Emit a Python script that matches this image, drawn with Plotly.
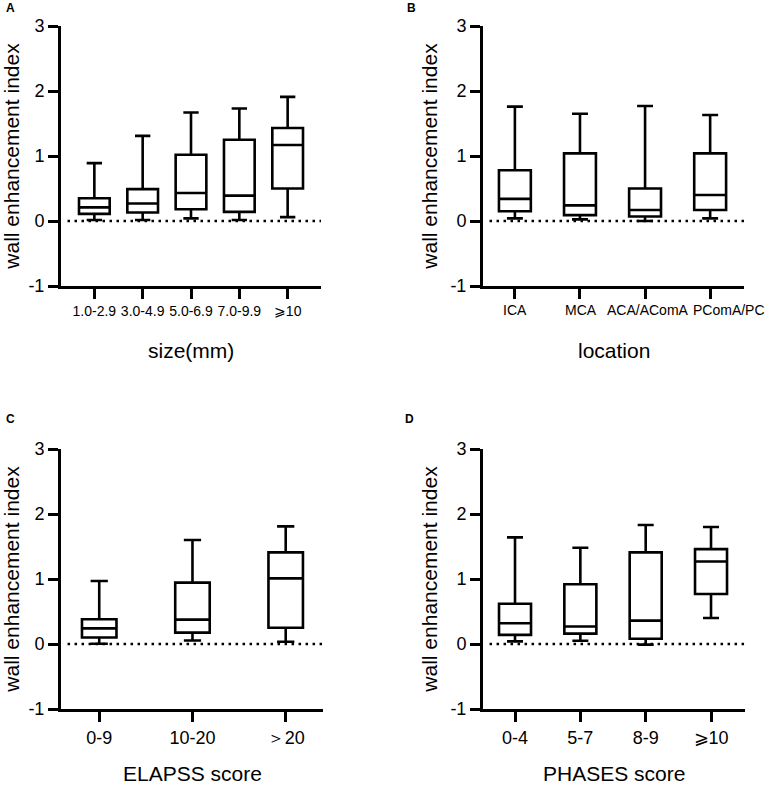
import plotly.graph_objects as go

# ---------------- data ----------------
size_cats = ["1.0-2.9", "3.0-4.9", "5.0-6.9", "7.0-9.9", "⩾10"]
size_low = [0.015, 0.015, 0.04, 0.015, 0.06]
size_q1 = [0.11, 0.13, 0.18, 0.14, 0.50]
size_med = [0.21, 0.27, 0.43, 0.39, 1.17]
size_q3 = [0.35, 0.49, 1.02, 1.25, 1.43]
size_up = [0.89, 1.31, 1.67, 1.73, 1.91]

loc_cats = ["ICA", "MCA", "ACA/AComA", "PComA/PC"]
loc_low = [0.04, 0.025, 0.0, 0.04]
loc_q1 = [0.15, 0.09, 0.07, 0.17]
loc_med = [0.34, 0.24, 0.17, 0.40]
loc_q3 = [0.78, 1.04, 0.50, 1.04]
loc_up = [1.76, 1.65, 1.77, 1.63]

elapss_cats = ["0-9", "10-20", "＞20"]
elapss_low = [0.005, 0.055, 0.035]
elapss_q1 = [0.10, 0.175, 0.25]
elapss_med = [0.24, 0.375, 1.01]
elapss_q3 = [0.38, 0.945, 1.41]
elapss_up = [0.97, 1.60, 1.81]

phases_cats = ["0-4", "5-7", "8-9", "⩾10"]
phases_low = [0.04, 0.05, -0.01, 0.40]
phases_q1 = [0.14, 0.16, 0.08, 0.77]
phases_med = [0.32, 0.27, 0.36, 1.27]
phases_q3 = [0.62, 0.92, 1.41, 1.46]
phases_up = [1.64, 1.48, 1.83, 1.80]

y_ticks = [-1, 0, 1, 2, 3]
y_ticktext = ["-1", "0", "1", "2", "3"]
y_title = "wall enhancement index"

FONT = "Liberation Sans, Arial, sans-serif"
W, H = 772, 785

panels = [
    # cats, low, q1, med, q3, up, xtitle, letter, xdomain(px), ydomain(px), xrange, boxwidth, tickfont
    (size_cats, size_low, size_q1, size_med, size_q3, size_up, "size(mm)", "A",
     (61, 321), (26, 286), [-0.69, 4.69], 0.635, 14),
    (loc_cats, loc_low, loc_q1, loc_med, loc_q3, loc_up, "location", "B",
     (483, 744), (26, 286), [-0.49, 3.52], 0.49, 14),
    (elapss_cats, elapss_low, elapss_q1, elapss_med, elapss_q3, elapss_up, "ELAPSS score", "C",
     (61, 323), (449, 709), [-0.41, 2.40], 0.37, 18),
    (phases_cats, phases_low, phases_q1, phases_med, phases_q3, phases_up, "PHASES score", "D",
     (483, 745), (449, 709), [-0.49, 3.52], 0.49, 18),
]

letter_pos = [(10, 8), (411, 8), (10, 419), (409, 419)]
# horizontal offsets (px) of the location labels relative to their ticks
loc_label_shift = [0, 1, 3, 19]

fig = go.Figure()
layout = dict(
    width=W, height=H,
    margin=dict(l=0, r=0, t=0, b=0, autoexpand=False),
    paper_bgcolor="white", plot_bgcolor="white",
    font=dict(family=FONT, color="black"),
    showlegend=False,
)
shapes = []
annotations = []

for i, (cats, low, q1, med, q3, up, xt, letter, xd, yd, xr, bw, tf) in enumerate(panels):
    n = i + 1
    xa = "x" if n == 1 else f"x{n}"
    ya = "y" if n == 1 else f"y{n}"
    fig.add_trace(go.Box(
        x=cats, q1=q1, median=med, q3=q3, lowerfence=low, upperfence=up,
        boxpoints=False, fillcolor="white",
        line=dict(color="black", width=2.6),
        width=bw, whiskerwidth=0.5,
        xaxis=xa, yaxis=ya, hoverinfo="skip",
    ))
    xkey = "xaxis" if n == 1 else f"xaxis{n}"
    ykey = "yaxis" if n == 1 else f"yaxis{n}"
    custom_labels = (letter == "B")
    layout[xkey] = dict(
        domain=[xd[0] / W, xd[1] / W], anchor=ya, type="category",
        categoryorder="array", categoryarray=cats,
        range=xr, showline=True, linewidth=3, linecolor="black", mirror=False,
        ticks="outside", ticklen=10, tickwidth=3, tickcolor="black", tickangle=0,
        showticklabels=not custom_labels,
        showgrid=False, zeroline=False, tickfont=dict(size=tf, family=FONT),
        automargin=False, fixedrange=True,
    )
    layout[ykey] = dict(
        domain=[1 - yd[1] / H, 1 - yd[0] / H], anchor=xa, range=[-1, 3],
        tickvals=y_ticks, ticktext=y_ticktext,
        showline=True, linewidth=3, linecolor="black",
        ticks="outside", ticklen=10, tickwidth=3, tickcolor="black",
        showgrid=False, zeroline=False, tickfont=dict(size=18, family=FONT),
        title=dict(text=y_title, font=dict(size=21, family=FONT), standoff=8),
        automargin=False, fixedrange=True,
    )
    # x-axis title as annotation centred under the plot
    title_y = yd[1] + 64
    annotations.append(dict(
        text=xt, xref="paper", yref="paper",
        x=(xd[0] + xd[1]) / 2 / W, y=1 - title_y / H,
        xanchor="center", yanchor="middle", showarrow=False,
        font=dict(size=21, family=FONT),
    ))
    if custom_labels:
        for c, sh in zip(cats, loc_label_shift):
            annotations.append(dict(
                text=c, xref=xa, yref="paper", x=c, y=1 - (yd[1] + 24) / H,
                xanchor="center", yanchor="middle", xshift=sh, showarrow=False,
                font=dict(size=tf, family=FONT),
            ))
    shapes.append(dict(
        type="line", xref=f"{xa} domain", yref=ya, x0=0.025, x1=1.0, y0=0, y1=0,
        line=dict(color="black", width=2.5, dash="2.5px,4.5px"),
    ))
    lx, ly = letter_pos[i]
    annotations.append(dict(
        text=f"<b>{letter}</b>", xref="paper", yref="paper",
        x=lx / W, y=1 - ly / H, xanchor="center", yanchor="middle",
        showarrow=False, font=dict(size=12, family=FONT),
    ))

layout["shapes"] = shapes
layout["annotations"] = annotations
fig.update_layout(**layout)
fig.write_html(
    "out.html",
    config={"displayModeBar": False},
    post_script="document.body.style.margin='0';document.body.style.overflow='hidden';",
)
